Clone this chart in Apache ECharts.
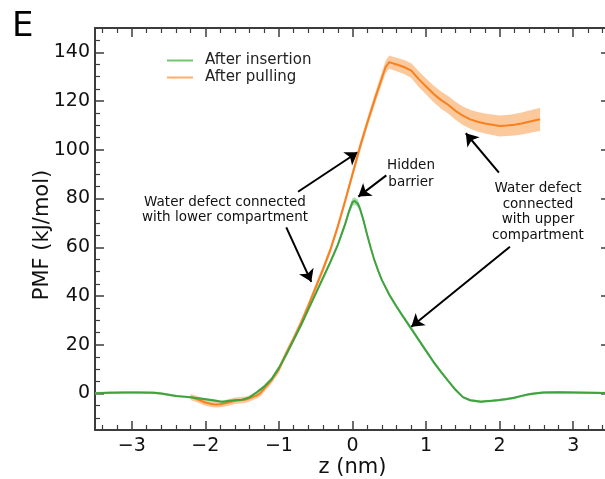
<!DOCTYPE html>
<html>
<head>
<meta charset="utf-8">
<script src="https://cdn.jsdelivr.net/npm/echarts@6/dist/echarts.min.js"></script>
<style>
  html, body { margin: 0; padding: 0; background: #fff; }
  #chart { width: 605px; height: 479px; }
</style>
</head>
<body>
<div id="chart"></div>
<script>
// After insertion: z (nm), PMF (kJ/mol), error half-width
const insertZ = [-3.5, -3.3, -3.1, -2.9, -2.7, -2.6, -2.5, -2.4, -2.3, -2.2,
  -2.1, -2.0, -1.9, -1.8, -1.75, -1.7, -1.6, -1.5, -1.4, -1.3,
  -1.2, -1.1, -1.0, -0.9, -0.8, -0.7, -0.6, -0.5, -0.4, -0.3,
  -0.2, -0.1, -0.05, 0.0, 0.03, 0.07, 0.1, 0.15, 0.2, 0.25,
  0.3, 0.35, 0.4, 0.5, 0.6, 0.7, 0.8, 0.9, 1.0, 1.1, 1.2,
  1.3, 1.4, 1.5, 1.6, 1.7, 1.75, 1.8, 1.9, 2.0, 2.1,
  2.2, 2.3, 2.4, 2.5, 2.6, 2.8, 3.0, 3.2, 3.4, 3.5];
const insertPMF = [0.1, 0.3, 0.4, 0.4, 0.3, 0.0, -0.5, -1.0, -1.3, -1.6,
  -2.0, -2.4, -2.8, -3.3, -3.4, -3.1, -2.8, -2.6, -1.6, 0.5,
  2.8, 5.8, 10.5, 16, 22, 28, 34.5, 41, 47.5, 54,
  61, 69.5, 74.5, 78.5, 79, 78, 76, 71, 65, 59.5,
  54.5, 50.3, 46.5, 40.5, 35.6, 31, 26.5, 22, 17.5, 13, 9,
  5.2, 1.5, -1.5, -2.8, -3.2, -3.4, -3.2, -3.0, -2.7, -2.3,
  -1.8, -1.0, -0.3, 0.1, 0.4, 0.5, 0.4, 0.3, 0.2, 0.2];
const insertErr = [0.5, 0.5, 0.5, 0.5, 0.5, 0.5, 0.5, 0.5, 0.5, 0.5,
  0.5, 0.5, 0.5, 0.5, 0.5, 0.5, 0.5, 0.5, 0.6, 0.6,
  0.8, 0.8, 0.8, 0.8, 0.8, 0.8, 0.8, 0.8, 0.9, 1.0,
  1.1, 1.2, 1.4, 1.5, 1.5, 1.5, 1.4, 1.3, 1.2, 1.0,
  0.9, 0.9, 0.8, 0.8, 0.8, 0.8, 0.8, 0.8, 0.8, 0.8, 0.7,
  0.6, 0.6, 0.5, 0.5, 0.5, 0.5, 0.5, 0.5, 0.5, 0.5,
  0.5, 0.5, 0.5, 0.5, 0.5, 0.5, 0.5, 0.5, 0.5, 0.5];

// After pulling
const pullZ = [-2.2, -2.1, -2.0, -1.9, -1.85, -1.8, -1.7, -1.6, -1.5, -1.45,
  -1.4, -1.3, -1.25, -1.2, -1.1, -1.0, -0.9, -0.8, -0.7, -0.6,
  -0.5, -0.4, -0.3, -0.2, -0.1, 0.0, 0.1, 0.2, 0.3, 0.4,
  0.45, 0.5, 0.55, 0.6, 0.7, 0.8, 0.9, 1.0, 1.1, 1.2,
  1.3, 1.4, 1.5, 1.6, 1.7, 1.8, 1.9, 2.0, 2.1, 2.2,
  2.3, 2.4, 2.5, 2.55];
const pullPMF = [-1.4, -2.5, -3.7, -4.4, -4.5, -4.4, -3.8, -3.0, -2.7, -2.5,
  -2.0, -0.8, 0.2, 2, 5.5, 10, 16.5, 22.5, 29, 36,
  43.5, 51, 59, 68.5, 79, 90, 101, 111, 120.5, 129.5,
  134, 136, 135.5, 135, 134, 132.5, 129, 126, 123, 120.5,
  118.5, 116, 114, 112.5, 111.5, 110.8, 110.3, 109.8, 110, 110.3,
  110.8, 111.5, 112.2, 112.5];
const pullErr = [1.3, 1.3, 1.3, 1.3, 1.3, 1.3, 1.3, 1.3, 1.3, 1.3,
  1.3, 1.3, 1.3, 1.4, 1.4, 1.5, 1.5, 1.5, 1.5, 1.5,
  1.5, 1.5, 1.5, 1.6, 1.7, 1.8, 2.0, 2.0, 2.2, 2.4,
  2.6, 2.7, 2.7, 2.8, 2.9, 3.0, 3.2, 3.3, 3.4, 3.5,
  3.6, 3.7, 3.8, 3.9, 4.0, 4.1, 4.2, 4.3, 4.3, 4.4,
  4.5, 4.6, 4.7, 4.8];

// annotation arrows [tail, head] in data units
const arrowLines = [
  [[-0.74, 82.8], [0.07, 99.0]],
  [[-0.90, 68.2], [-0.56, 45.8]],
  [[0.46, 89.5], [0.08, 80.8]],
  [[1.99, 90.6], [1.54, 106.8]],
  [[2.14, 60.2], [0.80, 27.4]]
];

const xTicks = { min: -3.5, max: 3.5, step: 1 };
const yTicks = { min: -15, max: 150, step: 20 };

const mk = (zs, vals) => zs.map((z, i) => [z, vals[i]]);
const bandOf = (zs, vals, err) => zs.map((z, i) => [z, vals[i] - err[i], vals[i] + err[i]]);

const axisColor = '#3c3c3c';
const font = 'DejaVu Sans';
const minus = s => String(s).replace('-', '\u2212');

function xAxisCfg(pos, showLabel) {
  return {
    type: 'value', position: pos, min: xTicks.min, max: xTicks.max,
    minInterval: xTicks.step, maxInterval: xTicks.step,
    name: showLabel ? 'z (nm)' : '', nameLocation: 'middle', nameGap: 27, nameMoveOverlap: false,
    nameTextStyle: { fontFamily: font, fontSize: 21, color: '#111' },
    axisLine: { onZero: false, lineStyle: { color: axisColor, width: 2 } },
    axisTick: { inside: true, length: 9, lineStyle: { color: axisColor, width: 1.5 } },
    minorTick: { show: true, splitNumber: 5, length: 5, lineStyle: { color: axisColor, width: 1.2 } },
    splitLine: { show: false },
    axisLabel: {
      show: showLabel, margin: 7, fontFamily: font, fontSize: 19, color: '#111',
      formatter: v => Number.isInteger(v) ? minus(v) : ''
    }
  };
}
function yAxisCfg(pos, showLabel) {
  return {
    type: 'value', position: pos, min: yTicks.min, max: yTicks.max,
    minInterval: yTicks.step, maxInterval: yTicks.step,
    name: showLabel ? 'PMF (kJ/mol)' : '', nameLocation: 'middle', nameGap: 42, nameMoveOverlap: false,
    nameTextStyle: { fontFamily: font, fontSize: 21, color: '#111', padding: [0, 12, 0, 0] },
    axisLine: { onZero: false, lineStyle: { color: axisColor, width: 2 } },
    axisTick: { inside: true, length: 9, lineStyle: { color: axisColor, width: 1.5 } },
    minorTick: { show: true, splitNumber: 4, length: 5, lineStyle: { color: axisColor, width: 1.2 } },
    splitLine: { show: false },
    axisLabel: {
      show: showLabel, margin: 5, fontFamily: font, fontSize: 19, color: '#111',
      formatter: v => (v % 20 === 0) ? minus(v) : ''
    }
  };
}

// shaded error band drawn as one polygon through the axis scales
function bandSeries(rows, color) {
  return {
    type: 'custom', silent: true, data: rows,
    encode: { x: 0, y: [1, 2] },
    renderItem: (params, api) => {
      if (params.dataIndex !== 0) return;
      const upper = rows.map(r => api.coord([r[0], r[2]]));
      const lower = rows.map(r => api.coord([r[0], r[1]])).reverse();
      return { type: 'polygon', shape: { points: upper.concat(lower) }, style: { fill: color } };
    }
  };
}

const chart = echarts.init(document.getElementById('chart'));
chart.setOption({
  animation: false,
  backgroundColor: '#fff',
  grid: { left: 95, right: -5, top: 28, bottom: 49, outerBoundsMode: 'none', containLabel: false },
  xAxis: [xAxisCfg('bottom', true), xAxisCfg('top', false)],
  yAxis: [yAxisCfg('left', true), yAxisCfg('right', false)],
  legend: {
    orient: 'vertical', left: 167, top: 53, padding: 0, itemGap: 2,
    itemWidth: 26, itemHeight: 14,
    textStyle: { fontFamily: font, fontSize: 15, color: '#222', padding: [0, 0, 0, 7] },
    data: [
      { name: 'After insertion', icon: 'path://M0,0H26V2H0Z', itemStyle: { color: '#74c374' } },
      { name: 'After pulling', icon: 'path://M0,0H26V2H0Z', itemStyle: { color: '#ffae6e' } }
    ]
  },
  graphic: [
    { type: 'text', left: 12, top: 10, style: { text: 'E', font: '34px "DejaVu Sans"', fill: '#000' } },
    { type: 'text', x: 225, y: 195, style: { text: 'Water defect connected\nwith lower compartment', font: '13.5px "DejaVu Sans"', fill: '#111', align: 'center', lineHeight: 15 } },
    { type: 'text', x: 411, y: 157, style: { text: 'Hidden\nbarrier', font: '13.5px "DejaVu Sans"', fill: '#111', align: 'center', lineHeight: 17 } },
    { type: 'text', x: 538, y: 181, style: { text: 'Water defect\nconnected\nwith upper\ncompartment', font: '13.5px "DejaVu Sans"', fill: '#111', align: 'center', lineHeight: 15.5 } }
  ],
  series: [
    bandSeries(bandOf(pullZ, pullPMF, pullErr), '#fcc99d'),
    bandSeries(bandOf(insertZ, insertPMF, insertErr), '#acdcac'),
    {
      type: 'line', name: 'After pulling', data: mk(pullZ, pullPMF),
      symbol: 'none', lineStyle: { color: '#f7801f', width: 2 }, itemStyle: { color: '#f7801f' }
    },
    {
      type: 'line', name: 'After insertion', data: mk(insertZ, insertPMF),
      symbol: 'none', lineStyle: { color: '#3fa23f', width: 2 }, itemStyle: { color: '#3fa23f' }
    },
    {
      type: 'lines', coordinateSystem: 'cartesian2d', silent: true,
      symbol: ['none', 'arrow'], symbolSize: 12,
      lineStyle: { color: '#000', width: 2, opacity: 1 },
      itemStyle: { color: '#000' },
      data: arrowLines.map(c => ({ coords: c }))
    }
  ]
});
</script>
</body>
</html>
